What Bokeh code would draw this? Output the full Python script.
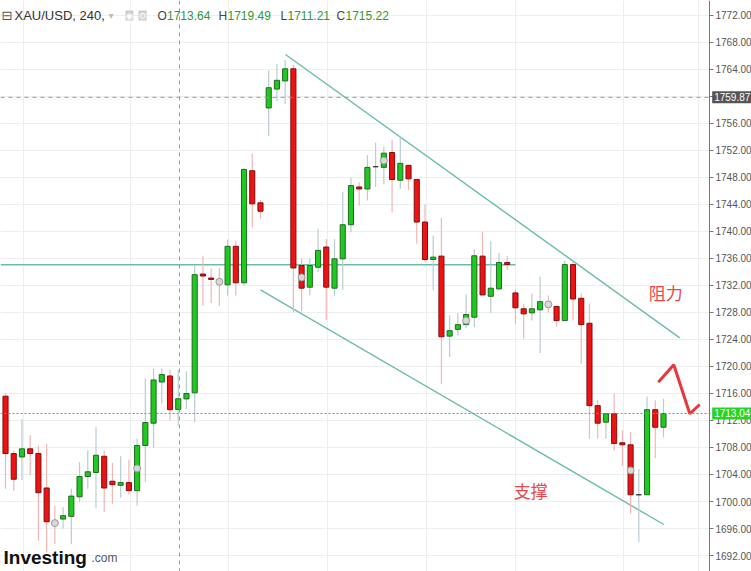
from bokeh.plotting import figure
from bokeh.models import (Range1d, FixedTicker, Label, Span, NumeralTickFormatter,
                          ColumnDataSource, BoxAnnotation)
from bokeh.core.properties import value
from bokeh.embed import file_html
from bokeh.resources import INLINE

# ---- data (XAU/USD, 240 min candles) ----
opens = [1715.6, 1707.1, 1706.6, 1707.8, 1707.1, 1702.0, 1696.9, 1697.4, 1697.8, 1700.7,
         1703.7, 1704.3, 1706.7, 1703.0, 1702.4, 1702.8, 1701.6, 1708.3, 1711.6, 1717.7,
         1718.6, 1713.64, 1715.2, 1716.1, 1733.7, 1733.1, 1732.6, 1732.1, 1737.8, 1732.4,
         1749.0, 1744.25, 1758.3, 1761.1, 1762.3, 1764.1, 1734.96, 1731.75, 1734.7, 1737.7,
         1731.6, 1735.95, 1741.0, 1746.6, 1746.3, 1749.6, 1749.5, 1751.7, 1747.6, 1749.8,
         1747.7, 1741.4, 1735.85, 1736.35, 1724.5, 1725.5, 1726.2, 1727.3, 1736.35, 1730.4,
         1731.5, 1735.4, 1730.9, 1728.55, 1727.95, 1728.4, 1729.25, 1728.9, 1726.8, 1735.1,
         1730.1, 1726.4, 1714.2, 1711.75, 1713.0, 1708.7, 1708.4, 1701.0, 1701.0, 1713.6,
         1711.0]
highs = [1716.0, 1707.5, 1712.2, 1709.8, 1708.3, 1708.5, 1699.4, 1699.15, 1701.9, 1705.8,
         1707.6, 1711.0, 1707.5, 1705.7, 1706.7, 1706.2, 1709.3, 1718.2, 1719.65, 1719.75,
         1719.5, 1719.49, 1719.3, 1735.0, 1736.4, 1734.5, 1734.6, 1738.8, 1738.5, 1749.3,
         1751.5, 1744.7, 1763.85, 1764.8, 1765.4, 1764.7, 1735.95, 1735.95, 1740.4, 1738.9,
         1738.9, 1745.9, 1748.0, 1747.3, 1751.3, 1753.2, 1752.6, 1753.6, 1754.0, 1749.8,
         1747.8, 1744.0, 1739.4, 1742.0, 1727.6, 1727.9, 1730.7, 1737.4, 1740.0, 1738.55,
         1736.8, 1736.4, 1731.5, 1729.3, 1730.8, 1733.3, 1730.5, 1728.9, 1735.7, 1735.45,
         1730.8, 1729.3, 1715.0, 1713.0, 1716.0, 1710.5, 1710.3, 1704.8, 1715.55, 1715.0,
         1715.2]
lows = [1701.9, 1701.6, 1703.2, 1703.9, 1694.2, 1692.5, 1693.7, 1696.0, 1693.7, 1699.9,
        1701.9, 1699.0, 1698.4, 1699.65, 1700.6, 1701.0, 1699.4, 1702.9, 1708.0, 1714.5,
        1712.0, 1711.21, 1713.7, 1711.75, 1729.0, 1729.4, 1729.0, 1730.5, 1730.5, 1732.0,
        1740.6, 1741.9, 1754.1, 1759.3, 1758.9, 1728.0, 1728.2, 1730.5, 1734.0, 1726.9,
        1730.4, 1731.3, 1739.9, 1743.85, 1744.6, 1746.6, 1747.0, 1742.8, 1746.3, 1746.1,
        1738.2, 1735.45, 1731.25, 1717.4, 1721.4, 1724.6, 1725.7, 1725.8, 1730.6, 1727.9,
        1731.3, 1734.3, 1726.3, 1724.1, 1726.8, 1722.0, 1728.0, 1725.9, 1726.8, 1726.8,
        1720.4, 1709.3, 1709.3, 1709.3, 1707.55, 1705.3, 1698.2, 1694.0, 1701.0, 1706.4,
        1709.5]
closes = [1707.1, 1703.3, 1707.8, 1707.1, 1701.3, 1697.0, 1696.8, 1697.9, 1700.8, 1703.7,
          1704.4, 1706.85, 1702.0, 1702.5, 1702.8, 1701.6, 1708.3, 1711.7, 1718.0, 1718.8,
          1713.6, 1715.22, 1716.0, 1733.6, 1733.4, 1732.9, 1732.55, 1737.8, 1732.4, 1749.2,
          1744.1, 1743.0, 1761.3, 1762.4, 1764.1, 1734.6, 1731.6, 1734.96, 1737.2, 1731.75,
          1735.95, 1741.0, 1746.8, 1746.3, 1749.5, 1749.6, 1751.6, 1747.7, 1750.1, 1747.8,
          1741.4, 1735.85, 1736.2, 1724.4, 1725.3, 1726.2, 1727.7, 1736.4, 1730.6, 1731.6,
          1735.4, 1735.1, 1728.7, 1727.8, 1728.55, 1729.6, 1729.2, 1726.8, 1735.1, 1730.0,
          1726.2, 1714.2, 1711.6, 1713.0, 1708.6, 1708.4, 1701.0, 1701.0, 1713.6, 1711.0,
          1713.04]

event_idx = [6, 16, 26, 36, 46, 56, 66, 76]
event_price = [1696.8, 1704.9, 1732.55, 1733.2, 1750.5, 1726.8, 1729.2, 1704.6]

last_price = 1713.04
cross_price = 1759.87
cross_idx = 21.15
header_ohlc = ["1713.64", "1719.49", "1711.21", "1715.22"]

level_x = [-0.61, 62.0]
level_y = [1735.07, 1735.07]
resist_x = [34.04, 81.98]
resist_y = [1766.22, 1724.25]
support_x = [31.0, 80.04]
support_y = [1731.36, 1696.59]
arrow_x = [79.36, 81.25, 83.2, 84.4]
arrow_y = [1717.67, 1720.25, 1713.0, 1714.37]
note_text = ["阻力", "支撑"]
note_x = [78.2, 61.8]
note_y = [1730.96, 1701.6]

price_ticks = list(range(1692, 1773, 4))
session_breaks = [2.19, 15.2, 27.1, 39.1, 51.15, 62.0, 75.1, 84.2]

# ---- layout / styling ----
X_START, X_END = -0.61, 90.70      # visible candle-index range (whole canvas)
Y_START, Y_END = 1689.63, 1774.22
AXIS_AT = 85.59                    # price scale sits at the right end of the candle area
TAG_AT = 85.92

GREEN, GREEN_EDGE, GREEN_WICK = "#1fc91f", "#1f6b1f", "#b8ccd4"
RED, RED_EDGE, RED_WICK = "#f01212", "#7d1010", "#f2b5b5"
DOJI = "#333333"
TEAL = "#6cbcab"

idx = list(range(len(opens)))
fills, edges, wicks, tops, bottoms = [], [], [], [], []
for o, c in zip(opens, closes):
    tops.append(max(o, c))
    bottoms.append(min(o, c))
    if c > o:
        fills.append(GREEN); edges.append(GREEN_EDGE); wicks.append(GREEN_WICK)
    elif c < o:
        fills.append(RED); edges.append(RED_EDGE); wicks.append(RED_WICK)
    else:
        fills.append(DOJI); edges.append(DOJI); wicks.append(GREEN_WICK)

src = ColumnDataSource(dict(x=idx, high=highs, low=lows, top=tops, bottom=bottoms,
                            fill=fills, edge=edges, wick=wicks))

p = figure(width=751, height=571, x_range=Range1d(X_START, X_END),
           y_range=Range1d(Y_START, Y_END),
           output_backend="svg", toolbar_location=None, y_axis_location="right",
           min_border=0, min_border_left=0, min_border_right=0, min_border_top=0, min_border_bottom=0)
p.outline_line_color = None
p.xaxis.visible = False
p.background_fill_color = "white"

# grid
p.ygrid.ticker = FixedTicker(ticks=price_ticks)
p.ygrid.grid_line_color = "#eeeeee"
p.xgrid.ticker = FixedTicker(ticks=session_breaks)
p.xgrid.grid_line_color = "#eeeeee"
# keep the price-scale strip clean of grid lines
p.add_layout(BoxAnnotation(left=AXIS_AT, fill_color="white", fill_alpha=1.0,
                           line_color=None, level="underlay"))

# axis (price scale)
ax = p.yaxis[0]
ax.fixed_location = AXIS_AT
ax.ticker = FixedTicker(ticks=price_ticks)
ax.formatter = NumeralTickFormatter(format="0.00")
ax.major_label_text_font = "Liberation Sans"
ax.major_label_text_font_size = "10px"
ax.major_label_text_color = "#555555"
ax.axis_line_color = "#777777"
ax.major_tick_line_color = "#777777"
ax.major_tick_out = 4
ax.major_tick_in = 0
ax.minor_tick_line_color = None
ax.major_label_standoff = 2

# reference lines
p.add_layout(Span(location=cross_price, dimension="width", line_color="#999999",
                  line_dash="4 4", line_width=1))
p.add_layout(Span(location=cross_idx, dimension="height", line_color="#999999",
                  line_dash="4 4", line_width=1))
p.add_layout(Span(location=last_price, dimension="width", line_color="#2ecc2e",
                  line_dash="2 2", line_width=1))

# trend lines
p.line(level_x, level_y, line_color=TEAL, line_width=1.4)
p.line(resist_x, resist_y, line_color=TEAL, line_width=1.4)
p.line(support_x, support_y, line_color=TEAL, line_width=1.4)

# candles
p.segment(x0="x", x1="x", y0="low", y1="high", line_color="wick", line_width=1.2, source=src)
p.vbar(x="x", width=0.62, top="top", bottom="bottom", fill_color="fill", line_color="edge",
       line_width=1, source=src)
p.scatter(event_idx, event_price, size=7, fill_color="#d8d8d8", line_color="#9a9a9a", line_width=1)

# annotations
p.line(arrow_x, arrow_y, line_color="#e8383c", line_width=3)
p.text(note_x, note_y, text=note_text, text_color="#e8484a", text_font=value("Noto Sans CJK SC"),
       text_font_size="17px", text_baseline="middle", text_align="left")

# price tags on the price scale
p.add_layout(Label(x=TAG_AT, y=cross_price, text="1759.87", text_color="white", level="overlay",
                   text_font="Liberation Sans", text_font_size="10px", text_baseline="middle",
                   background_fill_color="#555555", padding=2))
p.add_layout(Label(x=TAG_AT, y=last_price, text="1713.04", text_color="white", level="overlay",
                   text_font="Liberation Sans", text_font_size="10px", text_baseline="middle",
                   background_fill_color="#26d426", padding=2))

# header
hy = 556
def hdr(x, text, color, size="13px", style="normal", font="Liberation Sans", bg=None):
    kw = {}
    if bg:
        kw["background_fill_color"] = bg
    p.add_layout(Label(x=x, y=hy, x_units="screen", y_units="screen", text=text,
                       text_color=color, text_font=font, text_font_size=size,
                       text_font_style=style, text_baseline="middle", **kw))

hdr(1, "⊟", "#555555", "13px", font="DejaVu Sans")
hdr(14, "XAU/USD, 240,", "#333333", "13px")
hdr(108, "▾", "#bbbbbb", "10px", font="DejaVu Sans")
hdr(125, "◉", "#ffffff", "9px", font="DejaVu Sans", bg="#cccccc")
hdr(138, "⚙", "#ffffff", "9px", font="DejaVu Sans", bg="#cccccc")
letters = ["O", "H", "L", "C"]
lx = [157, 218, 280, 336]
lw = [9.5, 9, 7, 9]
for L, x, w, v in zip(letters, lx, lw, header_ohlc):
    hdr(x, L, "#444444", "12px")
    hdr(x + w, v, "#2f9a2f", "12px")

# logo
p.add_layout(Label(x=3, y=14, x_units="screen", y_units="screen", text="Investing",
                   text_color="#111111", text_font="Liberation Sans", text_font_size="19px",
                   text_font_style="bold", text_baseline="alphabetic"))
p.add_layout(Label(x=91, y=14, x_units="screen", y_units="screen", text=".com",
                   text_color="#555555", text_font="Liberation Sans", text_font_size="12px",
                   text_baseline="alphabetic"))

open("out.html", "w").write(file_html(p, INLINE))
